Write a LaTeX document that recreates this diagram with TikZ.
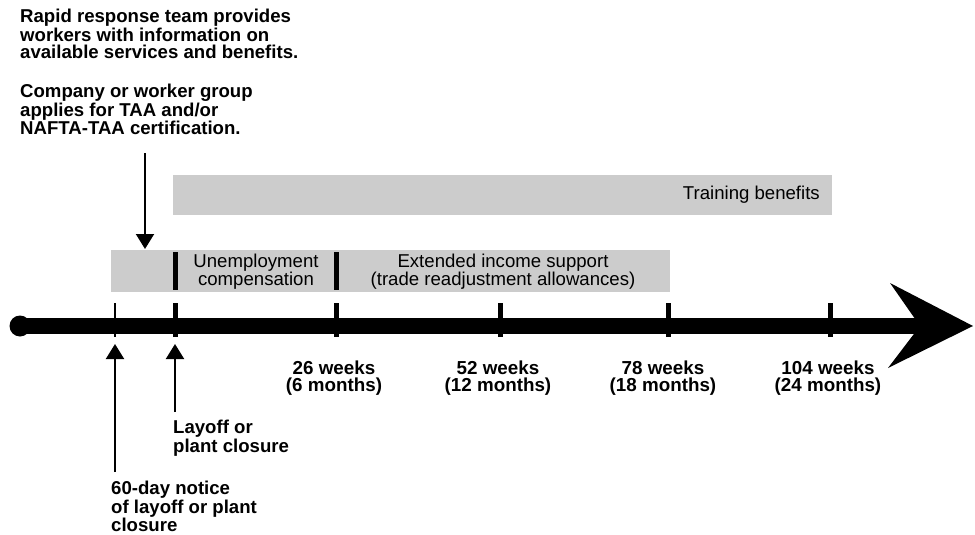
\documentclass[tikz,border=0pt]{standalone}
\usepackage{fontspec}
\setmainfont{Liberation Sans}
\usetikzlibrary{arrows.meta}
\tikzset{
  note/.style={font=\bfseries\fontsize{18.6}{17}\selectfont, align=left, inner sep=0pt},
  weeks/.style={font=\bfseries\fontsize{18.8}{17}\selectfont, align=center, inner sep=0pt, anchor=north},
  boxtext/.style={font=\fontsize{18.6}{17}\selectfont, align=center, inner sep=0pt},
  pointer/.style={line width=2pt, -{Triangle[width=18pt,length=15pt]}},
  tick/.style={line width=5pt},
}
\definecolor{boxgray}{gray}{0.80}
\begin{document}
\begin{tikzpicture}[x=1pt,y=-1pt]
\useasboundingbox (0,0) rectangle (975,535);
% benefit bars
\fill[boxgray] (173,175) rectangle (832,215);
\node[boxtext, anchor=east] (train) at (820,195) {Training benefits};
\fill[boxgray] (111,250) rectangle (670,292);
\draw[tick] (175,252) -- (175,290);
\draw[tick] (336,252) -- (336,290);
\node[boxtext] (ui) at (256,272) {Unemployment\\compensation};
\node[boxtext] (tra) at (503,272) {Extended income support\\(trade readjustment allowances)};
% time line
\coordinate (start) at (20,326);
\coordinate (notch) at (920,326);
\fill (start) circle (10.5);
\draw[line width=16pt] (start) -- (notch);
\fill (890,283) -- (973,326) -- (888,368) -- (notch) -- cycle;
\draw[line width=2pt] (115,303) -- (115,337);
\foreach \x in {175,336,500,668,830}
  \draw[tick] (\x,303) -- (\x,337);
% labels
\node[note, anchor=north west] (rapid) at (20,9) {Rapid response team provides\\workers with information on\\available services and benefits.};
\node[note, anchor=north west] (company) at (20,84) {Company or worker group\\applies for TAA and/or\\NAFTA-TAA certification.};
\node[weeks] (w26) at (334,361) {26 weeks\\(6 months)};
\node[weeks] (w52) at (498,361) {52 weeks\\(12 months)};
\node[weeks] (w78) at (663,361) {78 weeks\\(18 months)};
\node[weeks] (w104) at (828,361) {104 weeks\\(24 months)};
\node[note, anchor=north west] (layoff) at (173,420) {Layoff or\\plant closure};
\node[note, anchor=north west] (notice) at (111,481) {60-day notice\\of layoff or plant\\closure};
% arrows
\coordinate (apply) at (145,153);
\coordinate (applytip) at (145,249);
\coordinate (noticetip) at (115,344);
\coordinate (layofftip) at (175,344);
\draw[pointer] (apply) -- (applytip);
\draw[pointer] (notice.north west -| noticetip) ++(0,-9) -- (noticetip);
\draw[pointer] (layoff.north west -| layofftip) ++(0,-8) -- (layofftip);
\end{tikzpicture}
\end{document}
